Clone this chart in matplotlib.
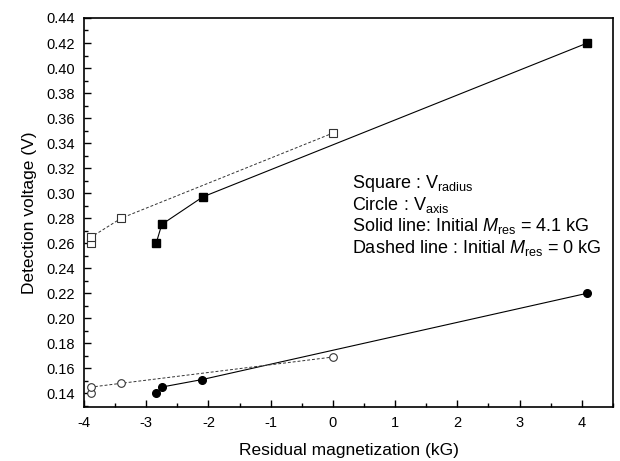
import numpy as np
import matplotlib
matplotlib.use('Agg')
import matplotlib.pyplot as plt
from matplotlib.ticker import MultipleLocator

plt.rcParams['font.family'] = ['Liberation Sans', 'DejaVu Sans']
plt.rcParams['axes.unicode_minus'] = False
plt.rcParams['mathtext.fontset'] = 'custom'
plt.rcParams['mathtext.rm'] = 'Liberation Sans'
plt.rcParams['mathtext.it'] = 'Liberation Sans:italic'

# solid line: initial Mres = 4.1 kG (filled markers)
sq_solid_x = [-2.84, -2.75, -2.09, 4.09]
sq_solid_y = [0.260, 0.275, 0.297, 0.420]
ci_solid_x = [-2.84, -2.75, -2.10, 4.09]
ci_solid_y = [0.140, 0.145, 0.151, 0.220]

# dashed line: initial Mres = 0 kG (open markers)
sq_dash_x = [-3.88, -3.88, -3.40, 0.0]
sq_dash_y = [0.260, 0.265, 0.280, 0.348]
ci_dash_x = [-3.88, -3.88, -3.40, 0.0]
ci_dash_y = [0.140, 0.145, 0.148, 0.169]

fig = plt.figure(figsize=(6.2, 4.61), dpi=100)
ax = fig.add_axes([0.1355, 0.117, 0.853, 0.844])

ax.plot(sq_solid_x, sq_solid_y, '-', color='k', lw=0.8, marker='s', ms=5.5,
        mfc='k', mec='k')
ax.plot(ci_solid_x, ci_solid_y, '-', color='k', lw=0.8, marker='o', ms=5.5,
        mfc='k', mec='k')
ax.plot(sq_dash_x, sq_dash_y, color='#333333', lw=0.7, ls=(0, (3, 2)),
        marker='s', ms=5.5, mfc='w', mec='#333333', mew=0.8)
ax.plot(ci_dash_x, ci_dash_y, color='#333333', lw=0.7, ls=(0, (3, 2)),
        marker='o', ms=5.5, mfc='w', mec='#333333', mew=0.8)

ax.set_xlim(-4, 4.5)
ax.set_ylim(0.129, 0.44)
ax.xaxis.set_major_locator(MultipleLocator(1))
ax.xaxis.set_minor_locator(MultipleLocator(0.5))
ax.yaxis.set_major_locator(MultipleLocator(0.02))
ax.yaxis.set_minor_locator(MultipleLocator(0.01))
ax.yaxis.set_major_formatter(plt.FormatStrFormatter('%.2f'))
ax.tick_params(which='both', direction='in', top=False, right=False,
               labelsize=10.5, width=1.0)
ax.tick_params(which='major', length=5, pad=6.5)
ax.tick_params(which='minor', length=3)
for s in ax.spines.values():
    s.set_linewidth(1.2)

ax.set_xlabel('Residual magnetization (kG)', fontsize=12.5, labelpad=9)
ax.set_ylabel('Detection voltage (V)', fontsize=12.5, labelpad=7)

lines = [r'Square : V$_{\mathrm{radius}}$',
         r'Circle : V$_{\mathrm{axis}}$',
         r'Solid line: Initial $\mathit{M}_{\mathrm{res}}$ = 4.1 kG',
         r'Dashed line : Initial $\mathit{M}_{\mathrm{res}}$ = 0 kG']
for i, t in enumerate(lines):
    ax.text(0.507, 0.563 - i * 0.0555, t, transform=ax.transAxes,
            fontsize=13, va='baseline', ha='left')

fig.savefig('out.png', dpi=100)
